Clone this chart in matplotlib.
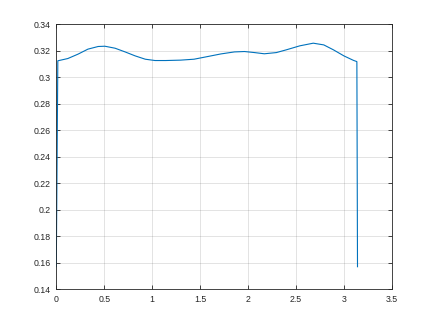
import matplotlib
matplotlib.use("Agg")
import matplotlib.pyplot as plt

x_vals = [0.0, 0.016, 0.12, 0.226, 0.33, 0.437, 0.507, 0.613, 0.718, 0.823, 0.928, 1.03, 1.14,
          1.297, 1.437, 1.578, 1.718, 1.858, 1.963, 2.068, 2.17, 2.295, 2.40, 2.54, 2.68, 2.79,
          2.89, 3.0, 3.1, 3.135, 3.1416]
y_vals = [0.157, 0.3125, 0.3142, 0.3175, 0.3213, 0.3233, 0.3235, 0.3220, 0.3192, 0.3162, 0.3137, 0.3127, 0.3127,
          0.3130, 0.3137, 0.3157, 0.3177, 0.3192, 0.3195, 0.3187, 0.3178, 0.3187, 0.3208, 0.3238, 0.3258, 0.3245,
          0.3208, 0.3162, 0.3128, 0.3119, 0.157]

xticks = [0, 0.5, 1, 1.5, 2, 2.5, 3, 3.5]
xtick_labels = ["0", "0.5", "1", "1.5", "2", "2.5", "3", "3.5"]
yticks = [0.14, 0.16, 0.18, 0.2, 0.22, 0.24, 0.26, 0.28, 0.3, 0.32, 0.34]
ytick_labels = ["0.14", "0.16", "0.18", "0.2", "0.22", "0.24", "0.26", "0.28", "0.3", "0.32", "0.34"]

plt.rcParams['font.family'] = ['Liberation Sans', 'DejaVu Sans']

fig = plt.figure(figsize=(4.33, 3.25), dpi=100)
ax = fig.add_axes([0.13, 0.11, 0.775, 0.815])

ax.plot(x_vals, y_vals, color="#0072BD", linewidth=0.8, solid_joinstyle="round")

ax.set_xlim(0, 3.5)
ax.set_ylim(0.14, 0.34)
ax.set_xticks(xticks)
ax.set_xticklabels(xtick_labels)
ax.set_yticks(yticks)
ax.set_yticklabels(ytick_labels)

axcol = "#262626"
for s in ax.spines.values():
    s.set_color(axcol)
    s.set_linewidth(0.6)
ax.tick_params(direction="in", length=3, width=0.6, colors=axcol, labelsize=6.3,
               top=True, right=True, labeltop=False, labelright=False, pad=4)
ax.grid(True, color="#262626", alpha=0.15, linewidth=0.6)
ax.set_axisbelow(True)

fig.savefig("out.png", dpi=100, facecolor="white")
